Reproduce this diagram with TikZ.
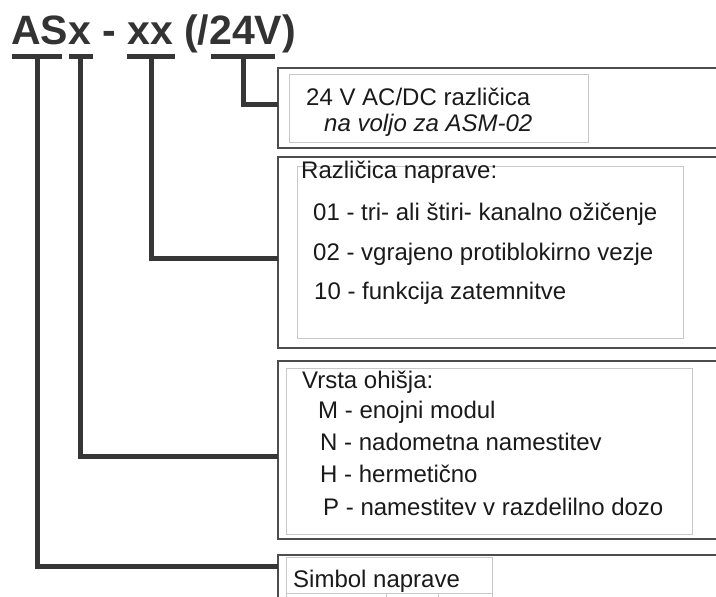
\documentclass[tikz,border=0pt]{standalone}
\usepackage{fontspec}
\setmainfont{Liberation Sans}
\definecolor{conncol}{HTML}{363636}
\definecolor{framecol}{HTML}{4D4D4D}
\definecolor{innercol}{HTML}{C8C8C8}
\definecolor{txtcol}{HTML}{1A1A1A}
\definecolor{titlecol}{HTML}{333333}
\tikzset{
  conn/.style={draw=conncol, line width=5bp, line join=miter, line cap=butt},
  bar/.style={draw=conncol, line width=5.5bp, line cap=butt},
  frame/.style={draw=framecol, line width=2bp, line join=miter},
  inner/.style={draw=innercol, line width=1bp, rectangle, inner sep=0pt, anchor=north west},
  lbl/.style={anchor=base west, inner sep=0pt, text=txtcol, font=\fontsize{24bp}{28bp}\selectfont},
  ttl/.style={anchor=base west, inner sep=0pt, text=titlecol, font=\fontsize{41bp}{46bp}\selectfont\bfseries}
}
\begin{document}
\begin{tikzpicture}[x=1bp, y=-1bp]
\useasboundingbox (0,0) rectangle (716,597);
\clip (0,0) rectangle (716,597);
\fill[white] (0,0) rectangle (716,597);

% title
\node[ttl] (title) at (11,45) {ASx - xx (/24V)};

% underline bars
\draw[bar] (12,56.5) -- (62,56.5);
\draw[bar] (69,56.5) -- (93,56.5);
\draw[bar] (127,56.5) -- (175,56.5);
\draw[bar] (211,56.5) -- (275,56.5);
\coordinate (b1) at (37,56.5);
\coordinate (b2) at (80,56.5);
\coordinate (b3) at (151,56.5);
\coordinate (b4) at (243,56.5);

% outer frames (open to the right)
\draw[frame] (716,68) -- (278,68) -- (278,148) -- (716,148);
\draw[frame] (716,157) -- (278,157) -- (278,348) -- (716,348);
\draw[frame] (716,361) -- (278,361) -- (278,539) -- (716,539);
\draw[frame] (716,555) -- (278,555) -- (278,620);

% connector end points on the frames
\coordinate (e4) at (278,105);
\coordinate (e3) at (278,258);
\coordinate (e2) at (278,456);
\coordinate (e1) at (278,566);

% inner boxes
\node[inner, minimum width=299bp, minimum height=68bp] (i1) at (289,74) {};
\node[inner, minimum width=386bp, minimum height=172bp] (i2) at (297,166) {};
\node[inner, minimum width=406bp, minimum height=166bp] (i3) at (286,368) {};
\node[inner, minimum width=206bp, minimum height=36bp] (i4) at (286,557) {};
\node[inner, minimum width=100bp, minimum height=30bp] (i5) at (286,593) {};
\node[inner, minimum width=54bp, minimum height=30bp] (i6) at (438,593) {};

% connectors
\draw[conn] (b4) |- (e4);
\draw[conn] (b3) |- (e3);
\draw[conn] (b2) |- (e2);
\draw[conn] (b1) |- (e1);

% texts
\node[lbl] (t11) at (306,106) {24 V AC/DC različica};
\node[lbl] (t12) at (324,132) {\itshape na voljo za ASM-02};

\node[lbl] (t21) at (301,179) {Različica naprave:};
\node[lbl] (t22) at (313,220) {01 - tri- ali štiri- kanalno ožičenje};
\node[lbl] (t23) at (313,260) {02 - vgrajeno protiblokirno vezje};
\node[lbl] (t24) at (314,299) {10 - funkcija zatemnitve};

\node[lbl] (t31) at (302,388) {Vrsta ohišja:};
\node[lbl] (t32) at (318,418) {M - enojni modul};
\node[lbl] (t33) at (320,450) {N - nadometna namestitev};
\node[lbl] (t34) at (320,482) {H - hermetično};
\node[lbl] (t35) at (323,515) {P - namestitev v razdelilno dozo};

\node[lbl] (t41) at (293,587) {Simbol naprave};
\end{tikzpicture}
\end{document}
